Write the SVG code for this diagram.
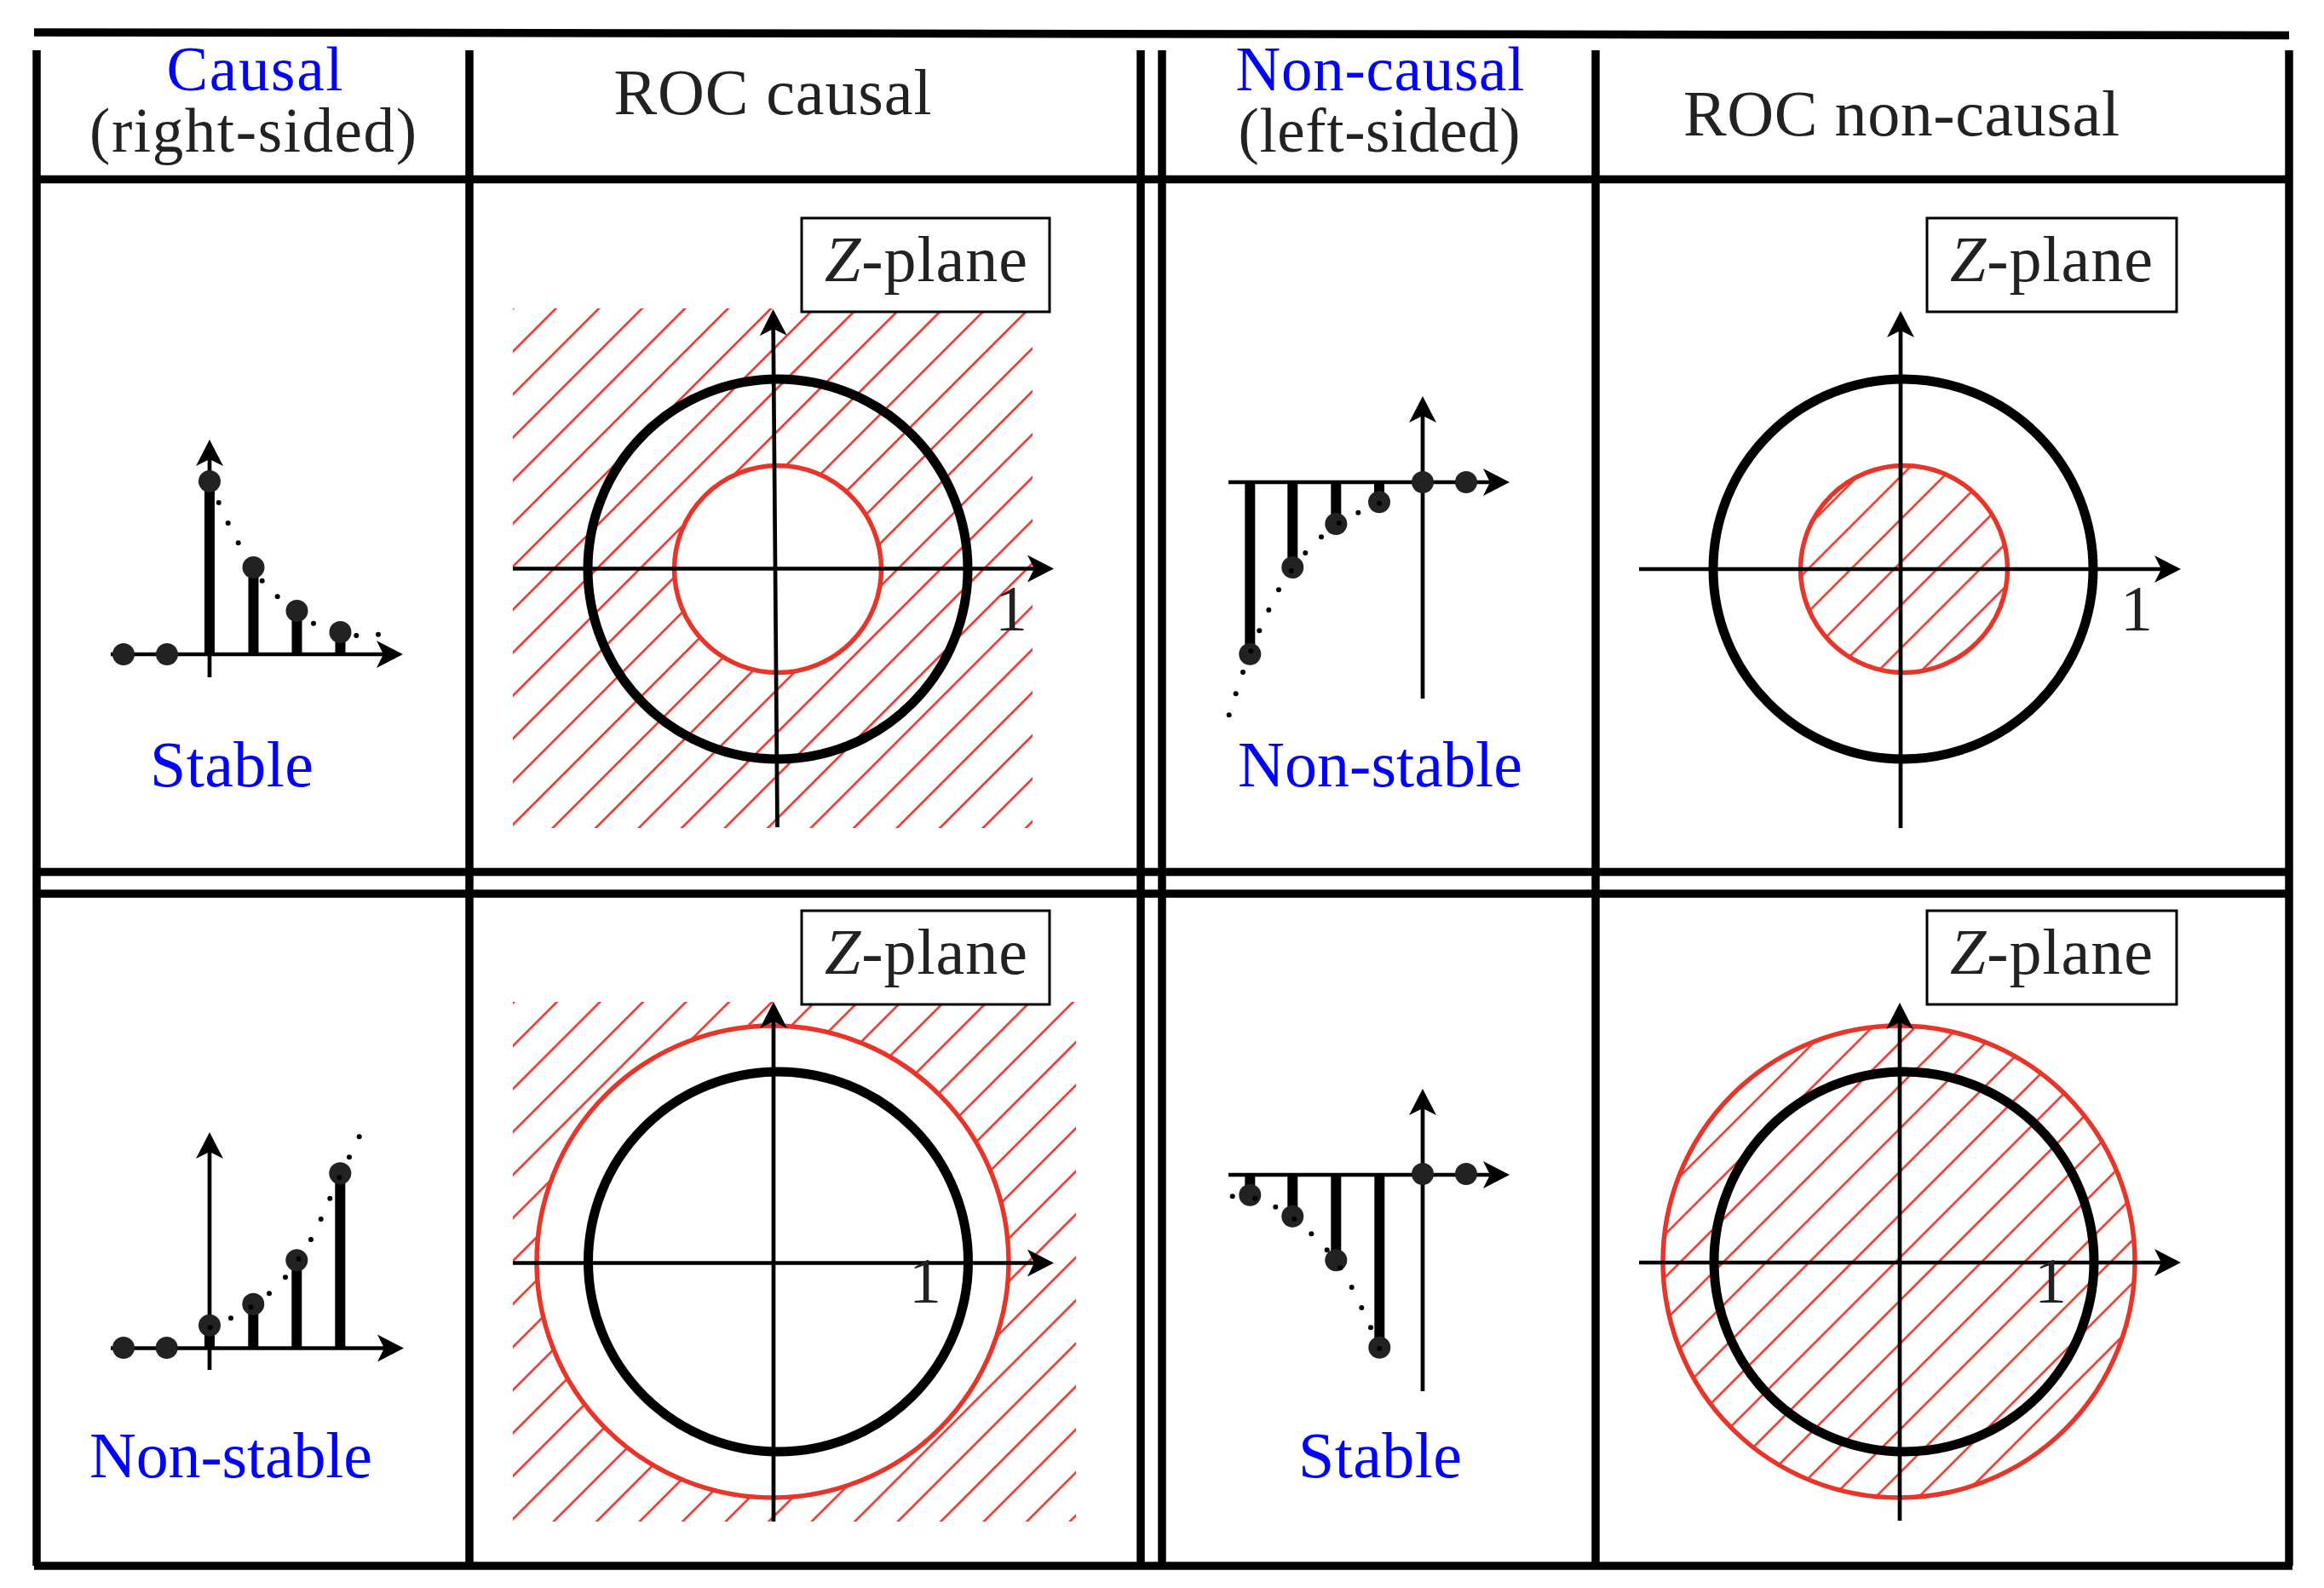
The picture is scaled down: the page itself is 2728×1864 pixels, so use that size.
<svg xmlns="http://www.w3.org/2000/svg" width="2728" height="1864" viewBox="0 0 2728 1864">
<style>
.rule{stroke:#000;stroke-width:9.5;fill:none;stroke-linecap:butt}
.ax{stroke:#000;stroke-width:4.7;fill:none;marker-end:url(#ah)}
.stem{stroke:#000;stroke-width:12}
.dot{fill:#222}
.sd{fill:#000}
.lbl{font-family:"Liberation Serif","DejaVu Serif",serif;font-size:76px;fill:#222}
.hd{font-size:73px}
.blue{fill:#0000ff}
.uc{fill:none;stroke:#000;stroke-width:11}
.roc{fill:none;stroke:#e8352a;stroke-width:5.5}
.zbox{fill:#fff;stroke:#000;stroke-width:3}
</style>
<defs>
<marker id="ah" markerUnits="userSpaceOnUse" viewBox="-32 -17 34 34" markerWidth="34" markerHeight="34" refX="-10" refY="0" orient="auto">
<path d="M0,0 L-31,-16 L-23,0 L-31,16 Z" fill="#000"/>
</marker>
<pattern id="h1" patternUnits="userSpaceOnUse" width="35.71" height="35.71" patternTransform="rotate(45)">
<line x1="3.3" y1="0" x2="3.3" y2="35.71" stroke="#e8352a" stroke-width="2.6"/>
</pattern>
<pattern id="h2" patternUnits="userSpaceOnUse" width="35.71" height="35.71" patternTransform="rotate(45)">
<line x1="9" y1="0" x2="9" y2="35.71" stroke="#e8352a" stroke-width="2.6"/>
</pattern>
<pattern id="h3" patternUnits="userSpaceOnUse" width="35.71" height="35.71" patternTransform="rotate(45)">
<line x1="8.3" y1="0" x2="8.3" y2="35.71" stroke="#e8352a" stroke-width="2.6"/>
</pattern>
<pattern id="h4" patternUnits="userSpaceOnUse" width="35.71" height="35.71" patternTransform="rotate(45)">
<line x1="14" y1="0" x2="14" y2="35.71" stroke="#e8352a" stroke-width="2.6"/>
</pattern>
</defs>
<rect x="0" y="0" width="2728" height="1864" fill="#fff"/>

<g id="table">
<line class="rule" x1="40" y1="38" x2="2687" y2="41.5" stroke-linecap="round"/>
<line class="rule" x1="43" y1="59" x2="43" y2="1838"/>
<line class="rule" x1="551" y1="59" x2="551" y2="1838"/>
<line class="rule" x1="1339" y1="59" x2="1339" y2="1838"/>
<line class="rule" x1="1364" y1="59" x2="1364" y2="1838"/>
<line class="rule" x1="1873" y1="59" x2="1873" y2="1838"/>
<line class="rule" x1="2687" y1="59" x2="2687" y2="1838"/>
<line class="rule" x1="40" y1="210.5" x2="2691" y2="210.5"/>
<line class="rule" x1="40" y1="1023.5" x2="2691" y2="1023.5"/>
<line class="rule" x1="40" y1="1049" x2="2691" y2="1049"/>
<line class="rule" x1="40" y1="1838" x2="2691" y2="1838"/>
</g>

<g id="header">
<text class="lbl hd blue" x="299" y="106" text-anchor="middle" textLength="207">Causal</text>
<text class="lbl hd" x="297" y="178" text-anchor="middle" textLength="384">(right-sided)</text>
<text class="lbl" x="907" y="134" text-anchor="middle" textLength="373">ROC causal</text>
<text class="lbl hd blue" x="1620" y="106" text-anchor="middle" textLength="339">Non-causal</text>
<text class="lbl hd" x="1619" y="178" text-anchor="middle" textLength="331">(left-sided)</text>
<text class="lbl" x="2232" y="159" text-anchor="middle" textLength="512">ROC non-causal</text>
</g>

<g id="seq-causal-stable">
<line class="ax" x1="130" y1="768" x2="463" y2="768"/>
<line class="ax" x1="246" y1="795" x2="246" y2="526"/>
<line class="stem" x1="246" y1="768" x2="246" y2="565"/>
<line class="stem" x1="297.5" y1="768" x2="297.5" y2="666"/>
<line class="stem" x1="348.5" y1="768" x2="348.5" y2="717"/>
<line class="stem" x1="399.5" y1="768" x2="399.5" y2="742"/>
<circle class="dot" cx="145" cy="768" r="13"/>
<circle class="dot" cx="196" cy="768" r="13"/>
<circle class="dot" cx="246" cy="565" r="13"/>
<circle class="dot" cx="297.5" cy="666" r="13"/>
<circle class="dot" cx="348.5" cy="717" r="13"/>
<circle class="dot" cx="399.5" cy="742" r="13"/>
<circle class="sd" cx="256.7" cy="590" r="3"/>
<circle class="sd" cx="267.7" cy="614" r="3"/>
<circle class="sd" cx="279.7" cy="637.3" r="3"/>
<circle class="sd" cx="307.7" cy="681.7" r="3"/>
<circle class="sd" cx="325.7" cy="700.3" r="3"/>
<circle class="sd" cx="368" cy="731.7" r="3"/>
<circle class="sd" cx="418.3" cy="746" r="3"/>
<circle class="sd" cx="444" cy="744.7" r="3"/>
<text class="lbl blue" x="272" y="923" text-anchor="middle" textLength="192">Stable</text>
</g>

<g id="zplane-roc-causal">
<path d="M602,362 H1212 V972 H602 Z M1034.5,668 A121.5,121.5 0 1 0 791.5,668 A121.5,121.5 0 1 0 1034.5,668 Z" fill="url(#h1)" fill-rule="evenodd"/>
<circle class="uc" cx="913" cy="668" r="223"/>
<circle class="roc" cx="913" cy="668" r="121.5"/>
<line class="ax" x1="602" y1="667.5" x2="1227" y2="667.5"/>
<line class="ax" x1="912.5" y1="971" x2="907.6" y2="373"/>
<rect class="zbox" x="941" y="256" width="291" height="110"/>
<text class="lbl" x="968" y="330" textLength="238"><tspan font-style="italic">Z</tspan>-plane</text>
<text class="lbl" x="1187" y="740" text-anchor="middle">1</text>
</g>

<g id="seq-noncausal-nonstable">
<line class="ax" x1="1442" y1="566" x2="1762" y2="566"/>
<line class="ax" x1="1670" y1="820" x2="1670" y2="475"/>
<line class="stem" x1="1467.3" y1="566" x2="1467.3" y2="767.7"/>
<line class="stem" x1="1517.3" y1="566" x2="1517.3" y2="666"/>
<line class="stem" x1="1568.3" y1="566" x2="1568.3" y2="615"/>
<line class="stem" x1="1619" y1="566" x2="1619" y2="589.3"/>
<circle class="dot" cx="1670" cy="566" r="13"/>
<circle class="dot" cx="1721" cy="566" r="13"/>
<circle class="dot" cx="1619" cy="589.3" r="13"/>
<circle class="dot" cx="1568.3" cy="615" r="13"/>
<circle class="dot" cx="1517.3" cy="666" r="13"/>
<circle class="dot" cx="1467.3" cy="767.7" r="13"/>
<circle class="sd" cx="1594.3" cy="601.7" r="3"/>
<circle class="sd" cx="1551" cy="630.3" r="3"/>
<circle class="sd" cx="1532.3" cy="649" r="3"/>
<circle class="sd" cx="1501" cy="692.3" r="3"/>
<circle class="sd" cx="1489.3" cy="716" r="3"/>
<circle class="sd" cx="1478.3" cy="740.3" r="3"/>
<circle class="sd" cx="1459" cy="789" r="3"/>
<circle class="sd" cx="1450.7" cy="814.3" r="3"/>
<circle class="sd" cx="1442.7" cy="839.3" r="3"/>
<circle class="sd" cx="1619" cy="590.7" r="3"/>
<circle class="sd" cx="1571.7" cy="614" r="3"/>
<circle class="sd" cx="1515.7" cy="670" r="3"/>
<circle class="sd" cx="1468.3" cy="764.3" r="3"/>
<text class="lbl blue" x="1620" y="923" text-anchor="middle" textLength="334">Non-stable</text>
</g>

<g id="zplane-roc-noncausal">
<circle cx="2235" cy="668" r="121.5" fill="url(#h2)"/>
<circle class="uc" cx="2234" cy="668" r="223"/>
<circle class="roc" cx="2235" cy="668" r="121.5"/>
<line class="ax" x1="1924" y1="668" x2="2550" y2="668"/>
<line class="ax" x1="2231" y1="972" x2="2231" y2="375"/>
<rect class="zbox" x="2262" y="256" width="293" height="110"/>
<text class="lbl" x="2289" y="330" textLength="238"><tspan font-style="italic">Z</tspan>-plane</text>
<text class="lbl" x="2508" y="740" text-anchor="middle">1</text>
</g>

<g id="seq-causal-nonstable">
<line class="ax" x1="130" y1="1582.5" x2="464" y2="1582.5"/>
<line class="ax" x1="246" y1="1608" x2="246" y2="1339"/>
<line class="stem" x1="246" y1="1582.5" x2="246" y2="1555.7"/>
<line class="stem" x1="297.3" y1="1582.5" x2="297.3" y2="1530.7"/>
<line class="stem" x1="348.3" y1="1582.5" x2="348.3" y2="1479.3"/>
<line class="stem" x1="399.3" y1="1582.5" x2="399.3" y2="1377.3"/>
<circle class="dot" cx="145" cy="1582" r="13"/>
<circle class="dot" cx="195.7" cy="1582" r="13"/>
<circle class="dot" cx="246" cy="1555.7" r="13"/>
<circle class="dot" cx="297.3" cy="1530.7" r="13"/>
<circle class="dot" cx="348.3" cy="1479.3" r="13"/>
<circle class="dot" cx="399.3" cy="1377.3" r="13"/>
<circle class="sd" cx="246.7" cy="1558.3" r="3"/>
<circle class="sd" cx="271" cy="1547.3" r="3"/>
<circle class="sd" cx="294.3" cy="1534.3" r="3"/>
<circle class="sd" cx="316" cy="1518.3" r="3"/>
<circle class="sd" cx="335" cy="1499.3" r="3"/>
<circle class="sd" cx="350.7" cy="1477.7" r="3"/>
<circle class="sd" cx="365" cy="1455" r="3"/>
<circle class="sd" cx="376.7" cy="1431" r="3"/>
<circle class="sd" cx="387.3" cy="1406.7" r="3"/>
<circle class="sd" cx="398.3" cy="1382.3" r="3"/>
<circle class="sd" cx="410" cy="1358.3" r="3"/>
<circle class="sd" cx="421.7" cy="1334.3" r="3"/>
<text class="lbl blue" x="271" y="1734" text-anchor="middle" textLength="332">Non-stable</text>
</g>

<g id="zplane-roc-causal-nonstable">
<path d="M602,1176 H1263 V1786 H602 Z M1184,1481 A277,277 0 1 0 630,1481 A277,277 0 1 0 1184,1481 Z" fill="url(#h3)" fill-rule="evenodd"/>
<circle class="uc" cx="913.5" cy="1481" r="223"/>
<circle class="roc" cx="907" cy="1481" r="277"/>
<line class="ax" x1="602" y1="1482.5" x2="1227" y2="1482.5"/>
<line class="ax" x1="908" y1="1786" x2="908" y2="1186"/>
<rect class="zbox" x="941" y="1069" width="291" height="110"/>
<text class="lbl" x="968" y="1143" textLength="238"><tspan font-style="italic">Z</tspan>-plane</text>
<text class="lbl" x="1086" y="1529" text-anchor="middle">1</text>
</g>

<g id="seq-noncausal-stable">
<line class="ax" x1="1442" y1="1379" x2="1762" y2="1379"/>
<line class="ax" x1="1670" y1="1633" x2="1670" y2="1288"/>
<line class="stem" x1="1467.3" y1="1379" x2="1467.3" y2="1402.7"/>
<line class="stem" x1="1517.3" y1="1379" x2="1517.3" y2="1427.7"/>
<line class="stem" x1="1568.3" y1="1379" x2="1568.3" y2="1479.3"/>
<line class="stem" x1="1619.3" y1="1379" x2="1619.3" y2="1581.7"/>
<circle class="dot" cx="1670" cy="1378" r="13"/>
<circle class="dot" cx="1721" cy="1378" r="13"/>
<circle class="dot" cx="1467.3" cy="1402.7" r="13"/>
<circle class="dot" cx="1517.3" cy="1427.7" r="13"/>
<circle class="dot" cx="1568.3" cy="1479.3" r="13"/>
<circle class="dot" cx="1619.3" cy="1581.7" r="13"/>
<circle class="sd" cx="1446.7" cy="1404.3" r="3"/>
<circle class="sd" cx="1473.3" cy="1406.7" r="3"/>
<circle class="sd" cx="1497.3" cy="1416.7" r="3"/>
<circle class="sd" cx="1519.3" cy="1431" r="3"/>
<circle class="sd" cx="1539.3" cy="1448.3" r="3"/>
<circle class="sd" cx="1557.7" cy="1467.3" r="3"/>
<circle class="sd" cx="1573.3" cy="1488.3" r="3"/>
<circle class="sd" cx="1586.7" cy="1511" r="3"/>
<circle class="sd" cx="1598.3" cy="1535" r="3"/>
<circle class="sd" cx="1609" cy="1558.3" r="3"/>
<circle class="sd" cx="1619.3" cy="1582.7" r="3"/>
<text class="lbl blue" x="1620" y="1734" text-anchor="middle" textLength="192">Stable</text>
</g>

<g id="zplane-roc-noncausal-stable">
<circle cx="2229" cy="1481" r="277" fill="url(#h4)"/>
<circle class="uc" cx="2235" cy="1481" r="223"/>
<circle class="roc" cx="2229" cy="1481" r="277"/>
<line class="ax" x1="1924" y1="1482" x2="2550" y2="1482"/>
<line class="ax" x1="2230" y1="1785" x2="2230" y2="1187"/>
<rect class="zbox" x="2262" y="1069" width="293" height="110"/>
<text class="lbl" x="2289" y="1143" textLength="238"><tspan font-style="italic">Z</tspan>-plane</text>
<text class="lbl" x="2407" y="1529" text-anchor="middle">1</text>
</g>
</svg>
